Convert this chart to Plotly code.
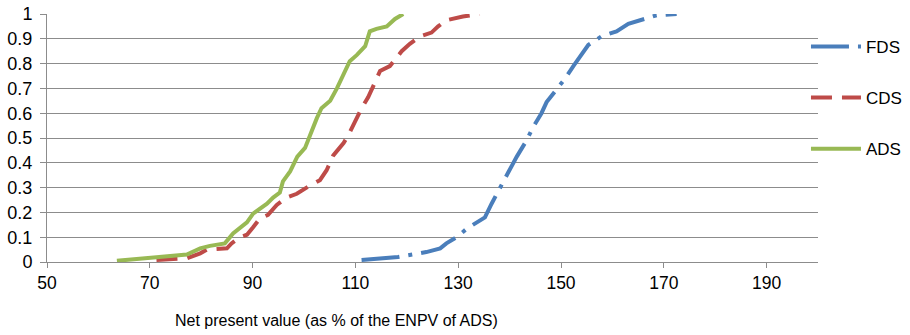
import plotly.graph_objects as go

# Data (x: NPV as % of ENPV of ADS, y: cumulative probability)
fds_x = [111.2, 118.3, 123.8, 126.5, 127.7, 129.7, 131.7, 133.6, 135.2, 136.5, 138.1, 139.7, 141.4,
         143.3, 144.6, 146.2, 147.2, 149.2, 150.8, 152.4, 154.0, 155.3, 157.9, 160.8, 163.1, 166.0,
         168.6, 172.5]
fds_y = [0.008, 0.02, 0.04, 0.055, 0.075, 0.10, 0.135, 0.16, 0.18, 0.235, 0.30, 0.36, 0.425,
         0.49, 0.545, 0.60, 0.645, 0.695, 0.74, 0.79, 0.84, 0.875, 0.91, 0.93, 0.96, 0.98,
         0.995, 1.0]

cds_x = [71.3, 77.2, 79.8, 81.1, 85.0, 85.9, 87.5, 88.9, 90.1, 91.4, 93.0, 94.7, 96.6, 98.6,
         100.5, 103.1, 104.4, 105.7, 107.7, 108.6, 109.9, 111.2, 112.5, 113.8, 114.8, 116.7,
         117.7, 119.0, 120.6, 122.6, 124.8, 126.1, 127.7, 130.9, 134.2]
cds_y = [0.008, 0.015, 0.035, 0.05, 0.055, 0.075, 0.10, 0.11, 0.14, 0.175, 0.19, 0.23, 0.26, 0.275,
         0.30, 0.33, 0.37, 0.43, 0.48, 0.51, 0.565, 0.62, 0.665, 0.72, 0.77, 0.79,
         0.815, 0.85, 0.88, 0.91, 0.925, 0.95, 0.975, 0.99, 1.0]

ads_x = [63.6, 77.2, 79.8, 81.7, 84.6, 86.2, 88.9, 90.1, 92.8, 94.0, 95.3, 95.9, 97.3, 98.7,
         100.2, 101.5, 102.5, 103.4, 105.1, 106.4, 107.6, 108.9, 110.3, 111.9, 112.8, 114.1,
         116.1, 117.7, 119.3]
ads_y = [0.005, 0.03, 0.055, 0.065, 0.075, 0.115, 0.16, 0.195, 0.235, 0.26, 0.28, 0.325, 0.365, 0.425,
         0.46, 0.53, 0.58, 0.62, 0.65, 0.70, 0.755, 0.81, 0.835, 0.87, 0.93, 0.94,
         0.95, 0.98, 1.0]

x_ticks = [50, 70, 90, 110, 130, 150, 170, 190]
y_ticks = [0, 0.1, 0.2, 0.3, 0.4, 0.5, 0.6, 0.7, 0.8, 0.9, 1]
y_tick_text = ["0", "0.1", "0.2", "0.3", "0.4", "0.5", "0.6", "0.7", "0.8", "0.9", "1"]
x_title = "Net present value (as % of the ENPV of ADS)"

FONT = "Liberation Sans, Arial, sans-serif"
GRID = "#8c8c8c"

fig = go.Figure()
fig.add_trace(go.Scatter(x=fds_x, y=fds_y, name="FDS", mode="lines", legendgroup="a",
                         line=dict(color="#4A7EBB", width=4, dash="38px,9px,4px,9px")))
fig.add_trace(go.Scatter(x=cds_x, y=cds_y, name="CDS", mode="lines", legendgroup="b",
                         line=dict(color="#BE4B48", width=4, dash="21px,10px")))
fig.add_trace(go.Scatter(x=ads_x, y=ads_y, name="ADS", mode="lines", legendgroup="c",
                         line=dict(color="#98B954", width=4)))

fig.update_layout(
    width=910, height=335,
    margin=dict(l=47, r=92, t=14, b=73, autoexpand=False),
    paper_bgcolor="white", plot_bgcolor="white",
    font=dict(family=FONT, size=17, color="black"),
    showlegend=True,
    legend=dict(x=0.9844, y=0.94, xanchor="left", yanchor="top", tracegroupgap=26,
                itemwidth=50, font=dict(size=17), bgcolor="rgba(0,0,0,0)"),
    xaxis=dict(range=[50, 200], tickvals=x_ticks, showgrid=False, zeroline=False,
               showline=True, linecolor=GRID, linewidth=1, ticks="outside", ticklen=5,
               tickcolor=GRID, tickfont=dict(size=17.5)),
    yaxis=dict(range=[0, 1], tickvals=y_ticks, ticktext=y_tick_text, showgrid=True,
               gridcolor=GRID, gridwidth=1, zeroline=False, showline=True, linecolor=GRID,
               linewidth=1, ticks="outside", ticklen=6, tickcolor=GRID, tickfont=dict(size=18),
               ticklabelstandoff=4),
    annotations=[dict(text=x_title, xref="paper", yref="paper", x=0.375, y=-0.234,
                      xanchor="center", yanchor="middle", showarrow=False,
                      font=dict(size=16, family=FONT, color="black"))],
)

fig.write_html("out.html", config={"displayModeBar": False},
               post_script="document.body.style.margin='0';")
